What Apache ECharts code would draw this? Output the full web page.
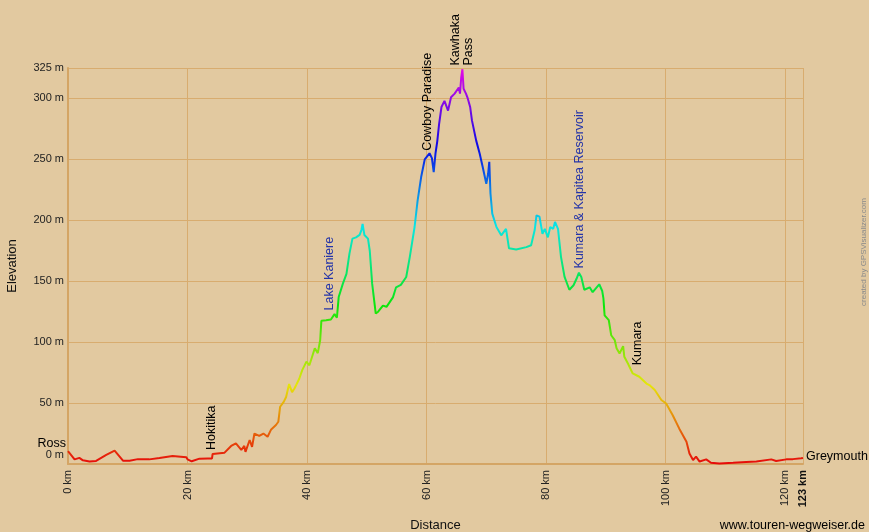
<!DOCTYPE html>
<html>
<head>
<meta charset="utf-8">
<script src="https://cdn.jsdelivr.net/npm/echarts@6/dist/echarts.min.js"></script>
<style>
html,body{margin:0;padding:0;background:#E2C9A0;}
#c{width:869px;height:532px;}
</style>
</head>
<body>
<div id="c"></div>
<script>
// ---- data ----
const distKm = [0,1.1,1.9,2.5,3.6,4.7,6.4,7.8,8.1,9.2,10.3,11.7,13.6,15.3,17.5,19.8,20.0,20.7,22.0,23.4,24.1,24.2,26.2,27.3,28.1,29.0,29.5,29.7,30.4,30.8,31.2,32.0,32.7,33.4,34.0,34.8,35.2,35.5,36.1,36.5,37.0,37.5,37.9,38.7,39.2,39.9,40.4,41.3,41.8,42.2,42.4,43.2,44.0,44.6,45.0,45.3,46.0,46.6,47.1,47.6,48.2,48.8,49.1,49.3,49.6,50.2,50.5,50.9,51.5,51.9,52.7,53.3,54.4,54.9,55.7,56.6,57.2,58.0,58.5,59.1,59.7,60.5,60.9,61.2,61.5,61.8,62.1,62.5,63.0,63.6,64.1,64.7,65.4,65.6,65.8,66.0,66.2,66.6,66.9,67.3,67.6,68.3,68.9,69.4,70.0,70.3,70.5,70.7,71.0,71.7,72.5,73.3,73.8,75.0,76.7,77.5,78.1,78.4,78.9,79.4,79.8,80.3,80.7,81.2,81.5,82.0,82.5,83.1,83.9,84.6,85.1,85.5,85.9,86.4,87.3,87.8,88.9,89.4,89.6,89.8,90.5,90.9,91.5,91.8,92.3,92.9,93.1,93.7,94.5,95.6,96.8,97.3,98.2,99.3,100.1,101.2,102.3,103.5,104.0,104.6,105.1,105.7,106.8,107.6,109.0,111.3,113.5,115.2,117.7,118.5,120.2,121.3,122.7,123.0];
const elevM = [10.6,3.8,5,3,2,2.5,7.4,11,10.6,2.7,2.7,4,3.8,5,6.6,5.5,3.8,2.2,4.4,4.6,4.6,8.2,9.3,14.8,17,11.5,14.8,10,19.7,14,25,23,25,22.4,28.4,32,34.7,47,51,55,65.6,59,62,70,77,84,81,95,91,101.6,117.5,118,118.6,123,120,137,148,156,172.7,185,186,188,192,197,188,185,175,148,123.5,125,130,129,137,145,147,153.5,170,194.5,216,235.5,250,255,251,239.6,255,265,279,293,298,290,301,304,309,304,317,324,308,304,300,293,282,265.6,254.6,243.7,230,238,248,222,205.5,194.5,187.7,193,177,176,178,179.5,192,204,203,189,193,186,194.5,193,198.6,193,170,153.5,143,146.7,152,157,153.5,143,145,141,147.5,142,136,122,118,105.7,101.6,95,90.7,96.7,88,82.5,74.3,71.6,66,64.8,60.7,52.5,49.7,40,29,18.3,8.7,3.3,6,2,3.8,1,0.5,1,1.6,2,3.8,2.5,3.8,4,4.7,5];

const xMax = 123, xStep = 20;
const yMax = 325, yStep = 50;

const wpNames = ['Hokitika','Lake Kaniere','Cowboy Paradise','Kawhaka\nPass','Kumara & Kapitea Reservoir','Kumara'];
const wpKm    = [24.1, 43.8, 60.1, 66.0, 85.6, 95.3];
const wpElev  = [11.5, 126, 257, 327, 160.5, 81];
const wpBlue  = [false, true, false, false, true, false];

const startName = 'Ross', startElev = 17;
const endName = 'Greymouth', endElev = 6.5;

// ---- style helpers ----
function hsl2hex(h, s, l) {
  s /= 100; l /= 100;
  const k = n => (n + h / 30) % 12;
  const a = s * Math.min(l, 1 - l);
  const f = n => l - a * Math.max(-1, Math.min(k(n) - 3, Math.min(9 - k(n), 1)));
  const toHex = v => Math.round(v * 255).toString(16).padStart(2, '0');
  return '#' + toHex(f(0)) + toHex(f(8)) + toHex(f(4));
}
const rampColors = [];
for (let i = 0; i <= 30; i++) rampColors.push(hsl2hex(i * 10, 92, 47));

const FONT = '"Liberation Sans", Arial, sans-serif';
const chart = echarts.init(document.getElementById('c'), null, {renderer: 'canvas'});

const option = {
  backgroundColor: '#E2C9A0',
  animation: false,
  grid: {left: 68, right: 66, top: 68, bottom: 68, containLabel: false, outerBoundsMode: 'none'},
  xAxis: {
    type: 'value', min: 0, max: xMax, interval: xStep,
    name: 'Distance', nameLocation: 'middle', nameGap: 55, nameMoveOverlap: false,
    nameTextStyle: {fontFamily: FONT, fontSize: 13, color: '#111'},
    axisLine: {show: true, lineStyle: {color: '#D4A565', width: 2}},
    axisTick: {show: false},
    splitLine: {show: true, lineStyle: {color: '#D8AC6F', width: 1}},
    axisLabel: {
      rotate: 90, margin: 6, fontFamily: FONT, fontSize: 11, color: '#222',
      showMinLabel: true, showMaxLabel: true,
      formatter: v => v === xMax ? '{b|' + v + ' km}' : v + ' km',
      rich: {b: {fontWeight: 'bold', fontFamily: FONT, fontSize: 11, color: '#111'}}
    }
  },
  yAxis: {
    type: 'value', min: 0, max: yMax, interval: yStep,
    name: 'Elevation', nameLocation: 'middle', nameGap: 49, nameRotate: 90, nameMoveOverlap: false,
    nameTextStyle: {fontFamily: FONT, fontSize: 13, color: '#111'},
    axisLine: {show: true, lineStyle: {color: '#D4A565', width: 2}},
    axisTick: {show: false},
    splitLine: {show: true, lineStyle: {color: '#D8AC6F', width: 1}},
    axisLabel: {
      margin: 4, fontFamily: FONT, fontSize: 11, color: '#222',
      showMinLabel: true, showMaxLabel: true,
      formatter: v => v === 0 ? '{z|0 m}' : v + ' m',
      rich: {z: {fontFamily: FONT, fontSize: 11, color: '#222', padding: [0, 0, 18, 0]}}
    }
  },
  visualMap: {
    show: false, type: 'continuous', dimension: 1, min: 0, max: yMax, seriesIndex: 0,
    inRange: {color: rampColors}
  },
  series: [{
    type: 'line',
    data: distKm.map((d, i) => [d, elevM[i]]),
    showSymbol: false, symbol: 'none',
    lineStyle: {width: 2},
    z: 3
  }]
};
chart.setOption(option);

// ---- labels placed through the axes' scales ----
const gfx = [];
wpNames.forEach((n, i) => {
  const p = chart.convertToPixel({gridIndex: 0}, [wpKm[i], wpElev[i]]);
  gfx.push({
    type: 'text', x: p[0], y: p[1], rotation: Math.PI / 2, z: 10,
    style: {
      text: n, fill: wpBlue[i] ? '#2434A8' : '#000',
      font: '12.5px ' + FONT, align: 'left', verticalAlign: 'middle', lineHeight: 13
    }
  });
});
const ps = chart.convertToPixel({gridIndex: 0}, [0, startElev]);
gfx.push({type: 'text', x: ps[0] - 2, y: ps[1], z: 10,
  style: {text: startName, fill: '#000', font: '12.5px ' + FONT, align: 'right', verticalAlign: 'middle'}});
const pe = chart.convertToPixel({gridIndex: 0}, [xMax, endElev]);
gfx.push({type: 'text', x: pe[0] + 3, y: pe[1], z: 10,
  style: {text: endName, fill: '#000', font: '12.5px ' + FONT, align: 'left', verticalAlign: 'middle'}});
gfx.push({type: 'text', right: 4, bottom: 0, z: 10,
  style: {text: 'www.touren-wegweiser.de', fill: '#000', font: '12.5px ' + FONT}});
gfx.push({type: 'text', x: 864, y: 252, rotation: Math.PI / 2, z: 10,
  style: {text: 'created by GPSVisualizer.com', fill: '#8a8a8a', font: '8px ' + FONT, align: 'center', verticalAlign: 'middle'}});
chart.setOption({graphic: gfx});
</script>
</body>
</html>
